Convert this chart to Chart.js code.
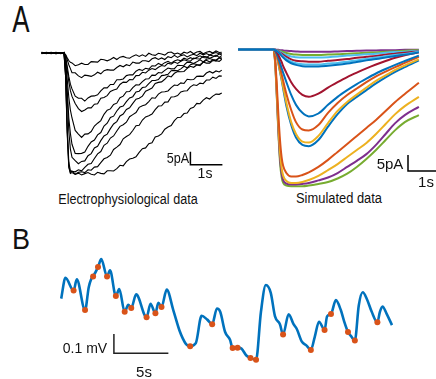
<!DOCTYPE html>
<html>
<head>
<meta charset="utf-8">
<script src="https://cdn.jsdelivr.net/npm/chart.js@4.4.1/dist/chart.umd.min.js"></script>
<style>
  html, body { margin: 0; padding: 0; background: #fff; }
  body { width: 436px; height: 379px; position: relative; overflow: hidden; }
  canvas { position: absolute; }
  .lbl { position: absolute; transform: translate(-50%, -50%); white-space: nowrap; line-height: 1; color: #111;
         font-family: 'Liberation Sans', Arial, sans-serif; }
</style>
</head>
<body>
<canvas id="ephysChart" width="190" height="145" style="left:40px;top:40px"></canvas>
<canvas id="simChart" width="204" height="150" style="left:232px;top:40px"></canvas>
<canvas id="traceChart" width="360" height="134" style="left:50px;top:245px"></canvas>

<div class="lbl" style="left:21px;top:20px;font-size:36px;transform:translate(-50%,-50%) scaleX(0.72)">A</div>
<div class="lbl" style="left:21px;top:239px;font-size:30px;transform:translate(-50%,-50%) scaleX(0.9)">B</div>
<div class="lbl" style="left:128px;top:199px;font-size:14px;transform:translate(-50%,-50%) scaleX(0.9)">Electrophysiological data</div>
<div class="lbl" style="left:339px;top:198px;font-size:14px;transform:translate(-50%,-50%) scaleX(0.92)">Simulated data</div>
<div class="lbl" style="left:178px;top:158px;font-size:14px;transform:translate(-50%,-50%) scaleX(0.9)">5pA</div>
<div class="lbl" style="left:205px;top:173px;font-size:14px">1s</div>
<div class="lbl" style="left:390px;top:163px;font-size:15px">5pA</div>
<div class="lbl" style="left:426px;top:181px;font-size:15px">1s</div>
<div class="lbl" style="left:85px;top:348px;font-size:14px">0.1 mV</div>
<div class="lbl" style="left:144px;top:371px;font-size:15px">5s</div>

<script>
// ---- panel A left: recorded sweeps (time in s, current in pA) ----
const ephysTimes = [0.05, 0.2, 0.35, 0.5, 0.65, 0.75, 0.8, 0.85, 0.9, 0.95,
  1.0, 1.1, 1.2, 1.3, 1.4, 1.5, 1.6, 1.7, 1.8, 1.9, 2.0, 2.1, 2.2, 2.3, 2.4, 2.5, 2.6, 2.7, 2.8, 2.9,
  3.0, 3.1, 3.2, 3.3, 3.4, 3.5, 3.6, 3.7, 3.8, 3.9, 4.0, 4.1, 4.2, 4.3, 4.4, 4.5, 4.6, 4.7, 4.8, 4.9,
  5.0, 5.1, 5.2, 5.3, 5.4, 5.5, 5.6, 5.68];
const sweep1 = [0.3, -0.2, 0.2, -0.3, 0.1, -0.2, -0.6, -1.8, -2.9, -3.6,
  -3.8, -4.9, -4.5, -3.9, -4.4, -4.4, -3.3, -3.4, -3.5, -2.4, -2.6, -3.0, -2.5, -1.7, -2.5, -1.6, -1.3, -1.8, -2.0, -1.2,
  -0.7, -1.3, -0.7, -1.3, -0.1, -0.7, -0.9, -0.1, -0.4, -0.8, 0.2, 0.4, -0.4, 0.0, -0.6, 0.3, -0.1, 0.6, -0.3, 0.4,
  0.6, -0.3, 0.3, 0.6, 0.0, 0.8, 0.2, 0.3];
const sweep2 = [-0.2, 0.3, -0.1, 0.2, -0.3, 0.1, -0.8, -2.5, -4.5, -6.0,
  -7.6, -7.6, -8.8, -9.5, -8.5, -8.7, -9.0, -8.4, -7.4, -8.0, -6.8, -6.4, -6.6, -6.6, -5.6, -4.8, -5.3, -4.5, -4.9, -3.5,
  -3.9, -3.9, -3.0, -3.0, -3.3, -2.2, -1.8, -2.5, -1.9, -2.5, -1.4, -1.8, -0.9, -1.7, -1.0, -0.7, -1.5, -0.9, -0.5, -1.0,
  -0.1, -0.7, -0.2, -0.8, -0.2, 0.2, -0.4, -0.2];
const sweep3 = [0.1, -0.2, 0.2, -0.1, 0.2, -0.1, -1.5, -5, -9, -12,
  -13.8, -16.6, -17.4, -17.4, -18.5, -17.3, -16.6, -16.5, -16.1, -14.6, -13.4, -13.4, -12.1, -12.1, -10.3, -10.3, -10.0, -8.7, -8.4, -8.4,
  -7.0, -6.3, -6.7, -5.9, -6.2, -4.9, -5.0, -4.0, -4.6, -3.7, -3.2, -3.9, -3.1, -2.6, -3.0, -2.0, -2.5, -1.8, -2.3, -1.7,
  -1.1, -1.7, -1.9, -0.8, -1.1, -1.3, -0.3, -0.8];
const sweep4 = [-0.3, 0.1, -0.2, 0.2, -0.1, 0.2, -2, -6.5, -11, -14.5,
  -16.7, -19.4, -21.4, -22.5, -21.9, -21.1, -21.1, -19.7, -19.5, -17.4, -17.1, -16.4, -14.8, -14.2, -13.9, -12.1, -11.2, -11.3, -10.2, -10.3,
  -8.7, -8.6, -7.4, -7.7, -6.6, -6.0, -6.4, -5.5, -4.8, -5.1, -3.9, -4.3, -3.5, -4.0, -3.2, -2.6, -3.0, -3.1, -2.0, -2.2,
  -2.3, -1.3, -1.5, -2.0, -1.5, -0.8, -1.7, -1.0];
const sweep5 = [0.3, -0.2, 0.1, -0.3, 0.2, -0.1, -3, -10, -17, -22,
  -25.0, -29.8, -31.2, -32.5, -31.2, -31.1, -30.2, -28.1, -27.0, -26.0, -23.6, -22.0, -21.5, -19.8, -19.3, -17.2, -16.6, -14.9, -14.8, -13.3,
  -12.2, -12.3, -11.0, -10.0, -9.9, -8.5, -8.6, -7.5, -7.7, -6.7, -5.8, -6.1, -6.0, -4.7, -4.8, -4.7, -3.5, -3.6, -4.0, -3.4,
  -2.6, -3.4, -2.4, -2.1, -2.5, -2.7, -1.9, -1.8];
const sweep6 = [-0.2, 0.2, -0.1, 0.3, -0.2, 0.1, -4, -14, -25, -31,
  -35.1, -38.6, -38.7, -38.6, -38.1, -35.9, -34.2, -33.5, -31.5, -30.6, -28.1, -27.0, -24.8, -24.3, -22.3, -20.8, -20.4, -18.7, -17.3, -16.8,
  -15.0, -14.7, -13.3, -13.1, -11.8, -10.6, -10.6, -10.2, -8.7, -8.5, -8.2, -6.8, -6.7, -6.8, -6.1, -5.1, -5.7, -4.5, -4.1, -4.4,
  -4.5, -3.5, -2.8, -3.4, -2.6, -3.1, -1.8, -2.3];
const sweep7 = [0.2, -0.3, 0.2, -0.1, 0.1, -0.2, -5, -17, -30, -37,
  -40.1, -41.4, -42.6, -41.7, -41.5, -39.5, -38.7, -36.5, -35.9, -33.7, -31.9, -31.2, -29.1, -27.3, -26.4, -24.2, -23.5, -21.7, -21.1, -19.4,
  -17.8, -17.4, -16.6, -14.7, -14.1, -13.5, -11.7, -11.3, -11.1, -10.1, -8.8, -9.2, -7.8, -7.1, -7.2, -7.1, -5.9, -5.1, -5.5, -4.6,
  -4.9, -3.5, -3.9, -3.9, -2.9, -3.0, -3.2, -2.4];
const sweep8 = [-0.1, 0.2, -0.2, 0.1, -0.2, 0.2, -8, -28, -42, -45.3,
  -45.5, -45.7, -44.9, -45.3, -44.0, -42.8, -42.5, -40.6, -38.8, -37.9, -35.5, -34.7, -32.7, -31.9, -30.0, -28.2, -27.6, -26.6, -24.5, -23.7,
  -22.9, -20.9, -20.3, -19.9, -18.7, -17.2, -17.4, -15.8, -15.0, -14.9, -14.6, -13.3, -12.3, -12.5, -11.5, -11.7, -10.1, -10.3, -10.2, -9.0,
  -8.9, -9.0, -7.7, -7.1, -7.7, -6.9, -7.3, -6.6];
const sweep9 = [0.2, -0.1, 0.3, -0.2, 0.1, -0.2, -9, -30, -43.5, -46.0,
  -45.4, -46.6, -45.9, -45.7, -46.0, -44.9, -45.1, -43.9, -43.7, -42.2, -40.7, -40.2, -39.3, -37.1, -36.2, -35.2, -33.0, -32.1, -31.4, -29.8,
  -28.0, -27.8, -25.8, -24.6, -24.1, -23.5, -21.8, -20.4, -20.3, -18.9, -18.8, -16.9, -16.8, -16.4, -15.0, -14.6, -14.5, -13.0, -12.2, -12.5,
  -11.6, -11.8, -10.4, -10.4, -9.3, -9.8, -8.8, -8.9];
const sweep10 = [-0.2, 0.1, -0.3, 0.2, -0.1, 0.2, -9, -31, -44, -46.3,
  -46.0, -46.7, -46.2, -46.9, -46.4, -46.0, -46.6, -46.9, -45.9, -46.3, -46.5, -45.3, -45.3, -45.4, -44.5, -43.2, -43.4, -41.8, -40.8, -40.5,
  -39.9, -38.2, -36.8, -36.5, -34.9, -34.5, -32.3, -31.9, -31.1, -29.3, -28.5, -27.9, -26.0, -24.8, -24.7, -23.3, -23.1, -21.3, -20.9, -19.4,
  -19.5, -18.1, -17.2, -17.7, -16.6, -15.8, -15.9, -15.4];
const ephysBarX = [4.7, 4.7, 5.7];
const ephysBarY = [-38, -43, -43];

// ---- panel A right: simulated currents (time in s, current in pA) ----
const simTimes = [0.19, 1.0, 1.3, 1.35, 1.4, 1.45, 1.5, 1.55, 1.6, 1.7, 1.85, 2.0, 2.2, 2.4, 2.7, 3.0, 3.3, 3.6, 3.9, 4.2, 4.5, 4.8, 5.1, 5.4, 5.84];
const simBlue0 = [0, 0, 0, -0.2, -0.5, -0.9, -1.4, -2.0, -2.5, -3.4, -4.3, -4.8, -5.2, -5.3, -5.3, -5.1, -4.8, -4.4, -3.9, -3.4, -3.0, -2.5, -2.0, -1.6, -0.9];
const simLightBlue1 = [0, 0, 0, -0.1, -0.4, -0.8, -1.2, -1.7, -2.2, -2.9, -3.8, -4.3, -4.6, -4.7, -4.7, -4.4, -4.2, -3.8, -3.4, -3.0, -2.5, -2.1, -1.7, -1.4, -0.7];
const simDarkRed0 = [0, 0, 0, -0.1, -0.3, -0.6, -1.0, -1.3, -1.7, -2.3, -3.1, -3.5, -3.7, -3.8, -3.8, -3.5, -3.3, -3.0, -2.6, -2.3, -2.0, -1.6, -1.3, -1.0, -0.6];
const simLightBlue0 = [0, 0, 0, -0.1, -0.2, -0.5, -0.7, -1.0, -1.3, -1.7, -2.2, -2.4, -2.5, -2.5, -2.5, -2.4, -2.2, -1.9, -1.7, -1.5, -1.3, -1.0, -0.8, -0.7, -0.4];
const simGreen0 = [0, 0, 0, -0.1, -0.2, -0.3, -0.5, -0.6, -0.8, -1.1, -1.4, -1.6, -1.7, -1.7, -1.7, -1.6, -1.5, -1.3, -1.2, -1.0, -0.9, -0.7, -0.6, -0.4, -0.2];
const simPurple0 = [0, 0, 0, 0, -0.1, -0.1, -0.2, -0.2, -0.3, -0.4, -0.5, -0.6, -0.7, -0.7, -0.7, -0.7, -0.6, -0.5, -0.4, -0.3, -0.3, -0.2, -0.2, -0.1, -0.1];
const simDarkRed1 = [0, 0, -0.1, -0.3, -0.8, -1.7, -2.8, -3.9, -5.2, -7.3, -10.2, -12.3, -14.2, -14.8, -13.8, -11.9, -10.2, -8.6, -7.2, -5.9, -4.7, -3.6, -2.6, -1.8, -0.9];
const simBlue1 = [0, 0, -0.1, -0.5, -1.4, -2.7, -4.2, -5.8, -7.3, -10.2, -14.2, -17.3, -19.8, -20.9, -20.0, -17.3, -14.8, -12.7, -10.8, -9.1, -7.5, -6.1, -4.8, -3.6, -1.9];
const simOrange1 = [0, 0, -0.1, -0.6, -1.7, -3.6, -5.5, -7.7, -9.8, -13.9, -18.9, -22.7, -25.0, -25.3, -23.6, -19.8, -16.7, -14.2, -12.2, -10.2, -8.4, -6.9, -5.5, -4.2, -2.3];
const simYellow1 = [0, 0, -0.1, -0.8, -2.0, -4.2, -6.7, -9.2, -11.7, -16.7, -22.7, -26.4, -28.8, -29.1, -27.0, -23.0, -19.2, -16.4, -14.1, -11.9, -9.8, -8.1, -6.4, -5.0, -3.1];
const simBlue2 = [0, 0, -0.1, -0.8, -2.2, -4.5, -7.0, -9.5, -12.3, -17.7, -23.6, -27.5, -29.8, -30.2, -28.3, -24.1, -20.2, -17.0, -14.8, -12.7, -10.6, -8.7, -7.0, -5.5, -3.4];
const simOrange2 = [0, 0, -0.2, -3.3, -11.1, -20.5, -28.3, -33.6, -36.4, -38.6, -39.7, -39.7, -39.2, -38.4, -36.7, -34.5, -32.0, -29.5, -27.0, -24.5, -22.0, -19.2, -16.4, -13.9, -10.4];
const simYellow2 = [0, 0, -0.2, -3.9, -13.3, -23.6, -32.0, -37.0, -39.5, -41.1, -41.7, -41.7, -41.4, -40.8, -39.5, -37.7, -35.8, -33.6, -31.4, -29.2, -26.4, -23.3, -20.2, -17.7, -14.8];
const simPurple2 = [0, 0, -0.2, -4.2, -14.2, -25.2, -33.9, -38.6, -40.8, -41.9, -42.2, -42.2, -42.0, -41.7, -40.9, -40.0, -38.6, -36.7, -34.8, -32.7, -29.8, -26.4, -23.0, -20.5, -17.9];
const simGreen2 = [0, 0, -0.2, -4.5, -14.8, -26.1, -35.2, -39.8, -41.7, -42.5, -42.7, -42.7, -42.7, -42.5, -42.0, -41.4, -40.3, -38.8, -36.7, -34.2, -31.4, -28.3, -25.2, -22.7, -20.5];
const simBarX = [5.5, 5.5, 6.5];
const simBarY = [-33, -38, -38];

// ---- panel B: membrane potential (time in s, mV) and detected events ----
const vmTimes = [0.66, 1.05, 1.80, 2.09, 2.85, 3.19, 3.41, 3.59, 4.04, 4.34, 4.87, 5.14, 5.68, 5.99, 6.49, 6.82, 7.09, 7.54, 8.50, 8.86,
  9.31, 9.58, 9.87, 10.35, 10.95, 11.52, 11.82, 12.12, 12.50, 13.02, 13.55, 14.07, 14.52, 14.96, 15.26, 15.71, 16.16, 16.40, 16.85, 17.21,
  17.66, 18.04, 18.55, 19.00, 19.45, 19.90, 20.29, 20.74, 21.03, 21.54, 21.99, 22.29, 22.74, 23.19, 23.58, 23.94, 24.33, 24.84, 25.07, 25.43,
  25.88, 26.33, 26.63, 26.99, 27.29, 27.62, 27.98, 28.34, 28.73, 29.17, 29.69, 29.92, 30.16, 30.52, 31.03];
const vmValues = [0.011, 0.120, 0.053, 0.112, -0.049, 0.071, 0.113, 0.127, 0.176, 0.218, 0.127, 0.159, 0.025, 0.061, -0.058, -0.021, -0.038, 0.033, -0.087, -0.016,
  -0.066, -0.011, -0.033, 0.058, -0.049, -0.156, -0.197, -0.227, -0.238, -0.222, -0.079, -0.099, -0.123, -0.041, -0.058, -0.164, -0.205, -0.248, -0.246, -0.251,
  -0.287, -0.300, -0.309, -0.058, 0.082, 0.041, -0.082, -0.123, -0.177, -0.071, -0.123, -0.148, -0.213, -0.235, -0.258, -0.189, -0.110, -0.153, -0.082, -0.070,
  0.003, -0.049, -0.107, -0.164, -0.187, -0.208, -0.025, 0.044, 0.008, -0.058, -0.113, -0.058, -0.030, -0.066, -0.128];
const eventTimes = [1.80, 2.85, 3.59, 4.04, 4.87, 5.68, 6.49, 7.09, 8.50, 9.31, 9.87, 12.50, 14.52, 16.40, 16.85, 18.04, 18.55, 21.03, 23.58, 24.84, 25.43, 26.99, 27.62, 29.69];
const eventValues = [0.053, -0.049, 0.127, 0.176, 0.127, 0.025, -0.058, -0.038, -0.087, -0.066, -0.033, -0.238, -0.123, -0.248, -0.246, -0.300, -0.309, -0.177, -0.258, -0.153, -0.070, -0.164, -0.208, -0.113];
const vmBarX = [5.5, 5.5, 10.5];
const vmBarY = [-0.175, -0.275, -0.275];

const pts = (xs, ys) => xs.map((x, i) => ({ x: x, y: ys[i] }));

function panelOptions(xMax, yMin, yMax) {
  return {
    responsive: false,
    animation: false,
    layout: { padding: 0 },
    plugins: { legend: { display: false }, tooltip: { enabled: false } },
    elements: { point: { radius: 0 } },
    scales: {
      x: { type: 'linear', display: false, min: 0, max: xMax },
      y: { type: 'linear', display: false, min: yMin, max: yMax }
    }
  };
}

function bar(xs, ys, color) {
  return { data: pts(xs, ys), borderColor: color, borderWidth: 1.5, tension: 0, clip: false };
}

// panel A left
let sweeps = [sweep1, sweep2, sweep3, sweep4, sweep5, sweep6, sweep7, sweep8, sweep9, sweep10];
let ephysSets = sweeps.map(s => ({ data: pts(ephysTimes, s), borderColor: '#000', borderWidth: 1.1, tension: 0, clip: false }));
ephysSets.push(bar(ephysBarX, ephysBarY, '#000'));
new Chart(document.getElementById('ephysChart'), {
  type: 'line',
  data: { datasets: ephysSets },
  options: panelOptions(190 / 32, (53 - 185) / 2.6, (53 - 40) / 2.6)
});

// panel A right
const blue = '#0072BD', orange = '#D95319', yellow = '#EDB120', purple = '#7E2F8E',
      green = '#77AC30', lightBlue = '#4DBEEE', darkRed = '#A2142F';
let simList = [
  [simBlue0, blue], [simLightBlue1, lightBlue], [simDarkRed0, darkRed], [simLightBlue0, lightBlue],
  [simGreen0, green], [simPurple0, purple], [simDarkRed1, darkRed], [simBlue1, blue],
  [simOrange1, orange], [simYellow1, yellow], [simBlue2, blue], [simOrange2, orange],
  [simYellow2, yellow], [simPurple2, purple], [simGreen2, green]
];
let simSets = simList.map(([vals, col]) => ({
  data: pts(simTimes, vals), borderColor: col, borderWidth: 2, cubicInterpolationMode: 'monotone', clip: false
}));
simSets.unshift(bar(simBarX, simBarY, '#000'));
new Chart(document.getElementById('simChart'), {
  type: 'line',
  data: { datasets: simSets },
  options: panelOptions(204 / 32, (49.5 - 190) / 3.2, (49.5 - 40) / 3.2)
});

// panel B
new Chart(document.getElementById('traceChart'), {
  type: 'line',
  data: {
    datasets: [
      { data: pts(eventTimes, eventValues), showLine: false, pointRadius: 3, pointBackgroundColor: orange, pointBorderWidth: 0, clip: false },
      { data: pts(vmTimes, vmValues), borderColor: blue, borderWidth: 2.6, cubicInterpolationMode: 'monotone', clip: false },
      bar(vmBarX, vmBarY, '#222')
    ]
  },
  options: panelOptions(360 / 11.14, (300 - 379) / 203, (300 - 245) / 203)
});
</script>
</body>
</html>
